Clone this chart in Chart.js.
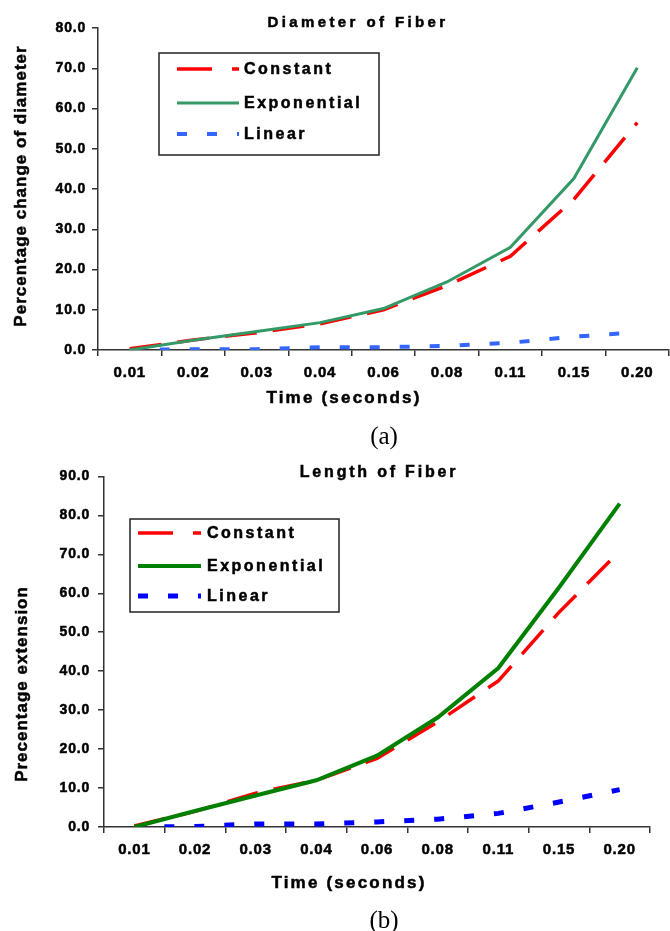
<!DOCTYPE html>
<html lang="en">
<head>
  <meta charset="UTF-8" />
  <title>Diameter and Length of Fiber</title>
  <script src="https://cdn.jsdelivr.net/npm/chart.js"></script>
  <style>
    body { margin: 0; background: #fff; }
    canvas { position: absolute; left: 0; }
    #diameterChart { top: 0; }
    #lengthChart { top: 460px; }
  </style>
</head>
<body>
  <canvas id="diameterChart" width="670" height="460"></canvas>
  <canvas id="lengthChart" width="670" height="471"></canvas>

  <script>
    // values
    const timeLabels = ['0.01', '0.02', '0.03', '0.04', '0.06', '0.08', '0.11', '0.15', '0.20'];
    const seriesNames = ['Constant', 'Exponential', 'Linear'];

    const diameterConstant    = [0.3, 2.5, 4.3, 6.5, 10.0, 16.0, 23.3, 37.4, 56.5];
    const diameterExponential = [0.0, 2.4, 4.6, 6.8, 10.3, 16.9, 25.5, 42.6, 70.1];
    const diameterLinear      = [0.0, 0.2, 0.2, 0.7, 0.7, 1.0, 1.8, 3.3, 4.4];
    const diameterTicks = { min: 0, max: 80, step: 10 };

    const lengthConstant    = [0.3, 4.0, 8.7, 12.0, 17.6, 27.0, 37.5, 55.1, 70.8];
    const lengthExponential = [0.0, 4.1, 8.1, 12.0, 18.3, 28.1, 40.8, 61.5, 83.0];
    const lengthLinear      = [0.0, 0.1, 0.8, 0.8, 1.3, 2.0, 3.5, 6.4, 9.6];
    const lengthTicks = { min: 0, max: 90, step: 10 };

    const FONT = "'Liberation Sans', Arial, sans-serif";
    const INK = '#000';

    // fill + thin stroke, the scanned figure has heavy type
    function heavyText(ctx, text, x, y) {
      ctx.fillText(text, x, y);
      ctx.strokeText(text, x, y);
    }

    // titles, axis titles, boxed legend and caption
    const fiberDecor = {
      id: 'fiberDecor',
      beforeDraw(chart) {
        chart.ctx.letterSpacing = '0.8px';
      },
      afterDraw(chart, args, o) {
        const ctx = chart.ctx;
        ctx.save();
        ctx.fillStyle = INK;
        ctx.strokeStyle = INK;
        ctx.lineWidth = 0.5;
        ctx.textBaseline = 'middle';
        ctx.textAlign = 'center';

        ctx.font = o.titleFont;
        ctx.letterSpacing = o.titleSpacing;
        heavyText(ctx, o.title, o.titleX, o.titleY);

        ctx.font = 'bold 17px ' + FONT;
        ctx.letterSpacing = '2.2px';
        heavyText(ctx, 'Time (seconds)', o.xTitleX, o.xTitleY);

        ctx.save();
        ctx.font = 'bold 17px ' + FONT;
        ctx.letterSpacing = '1px';
        ctx.translate(o.yTitleX, o.yTitleY);
        ctx.rotate(-Math.PI / 2);
        heavyText(ctx, o.yTitle, 0, 0);
        ctx.restore();

        ctx.font = '25px "Liberation Serif", "Times New Roman", serif';
        ctx.letterSpacing = '0px';
        ctx.fillText(o.caption, o.captionX, o.captionY);

        // legend box
        const lg = o.legend;
        ctx.fillStyle = '#fff';
        ctx.fillRect(lg.x, lg.y, lg.w, lg.h);
        ctx.strokeStyle = '#222';
        ctx.lineWidth = 1.5;
        ctx.strokeRect(lg.x, lg.y, lg.w, lg.h);

        ctx.textAlign = 'left';
        ctx.font = 'bold 16px ' + FONT;
        ctx.letterSpacing = '2.5px';
        chart.data.datasets.forEach((ds, i) => {
          const y = lg.rows[i];
          ctx.strokeStyle = ds.borderColor;
          ctx.lineWidth = ds.borderWidth;
          ctx.setLineDash(ds.legendDash || []);
          ctx.beginPath();
          ctx.moveTo(lg.lineX1, y);
          ctx.lineTo(lg.lineX2, y);
          ctx.stroke();
          ctx.setLineDash([]);
          ctx.fillStyle = INK;
          ctx.strokeStyle = INK;
          ctx.lineWidth = 0.5;
          heavyText(ctx, ds.label, lg.textX, y + 1);
        });
        ctx.restore();
      }
    };

    function makeChart(canvasId, cfg) {
      const ctx = document.getElementById(canvasId).getContext('2d');
      return new Chart(ctx, {
        type: 'line',
        data: {
          labels: timeLabels,
          datasets: [
            {
              label: seriesNames[0],
              data: cfg.constant,
              borderColor: '#ff0000',
              borderWidth: 3.5,
              borderDash: [32, 16],
              legendDash: [35, 20],
              order: 1
            },
            {
              label: seriesNames[1],
              data: cfg.exponential,
              borderColor: cfg.green,
              borderWidth: cfg.greenWidth,
              legendDash: [],
              order: 0
            },
            {
              label: seriesNames[2],
              data: cfg.linear,
              borderColor: cfg.blue,
              borderWidth: cfg.blueWidth,
              borderDash: [10, 20],
              legendDash: [10, 20],
              order: 2
            }
          ]
        },
        options: {
          responsive: false,
          animation: false,
          events: [],
          elements: { point: { radius: 0 }, line: { tension: 0, fill: false } },
          layout: { padding: cfg.padding },
          plugins: {
            legend: { display: false },
            title: { display: false },
            tooltip: { enabled: false },
            fiberDecor: cfg.decor
          },
          scales: {
            x: {
              offset: true,
              afterFit: s => { s.height = 30; },
              grid: { offset: true, drawOnChartArea: false, tickLength: 6, color: '#333', lineWidth: 1.5 },
              border: { color: '#333', width: 1.5 },
              ticks: {
                color: INK,
                textStrokeColor: INK,
                textStrokeWidth: 0.5,
                font: { family: FONT, size: 15, weight: 'bold' },
                padding: 8,
                maxRotation: 0,
                autoSkip: false
              }
            },
            y: {
              min: cfg.ticks.min,
              max: cfg.ticks.max,
              afterFit: s => { s.width = cfg.yWidth; },
              grid: { drawOnChartArea: false, tickLength: 6, color: '#333', lineWidth: 1.5 },
              border: { color: '#333', width: 1.5 },
              ticks: {
                stepSize: cfg.ticks.step,
                color: INK,
                textStrokeColor: INK,
                textStrokeWidth: 0.5,
                font: { family: FONT, size: 14, weight: 'bold' },
                padding: cfg.yPad,
                callback: v => v.toFixed(1)
              }
            }
          }
        },
        plugins: [fiberDecor]
      });
    }

    makeChart('diameterChart', {
      constant: diameterConstant,
      exponential: diameterExponential,
      linear: diameterLinear,
      ticks: diameterTicks,
      green: '#339966', greenWidth: 3,
      blue: '#3366ff', blueWidth: 4,
      padding: { top: 28, right: 1, bottom: 80, left: 0 },
      yWidth: 98, yPad: 6,
      decor: {
        title: 'Diameter of Fiber', titleFont: 'bold 15px ' + FONT, titleSpacing: '3.4px',
        titleX: 358, titleY: 23,
        yTitle: 'Percentage change of diameter', yTitleX: 21, yTitleY: 186,
        xTitleX: 344, xTitleY: 398,
        caption: '(a)', captionX: 384, captionY: 437,
        legend: { x: 159, y: 53, w: 220, h: 102, lineX1: 177, lineX2: 239, textX: 244, rows: [69, 103, 134] }
      }
    });

    makeChart('lengthChart', {
      constant: lengthConstant,
      exponential: lengthExponential,
      linear: lengthLinear,
      ticks: lengthTicks,
      green: '#008000', greenWidth: 4,
      blue: '#0000ff', blueWidth: 5,
      padding: { top: 16, right: 20, bottom: 74, left: 0 },
      yWidth: 104, yPad: 8,
      decor: {
        title: 'Length of Fiber', titleFont: 'bold 16px ' + FONT, titleSpacing: '2.8px',
        titleX: 379, titleY: 13,
        yTitle: 'Precentage extension', yTitleX: 22, yTitleY: 224,
        xTitleX: 349, xTitleY: 423,
        caption: '(b)', captionX: 384, captionY: 461,
        legend: { x: 130, y: 59, w: 209, h: 93, lineX1: 138, lineX2: 201, textX: 207, rows: [73, 106, 136] }
      }
    });
  </script>
</body>
</html>
